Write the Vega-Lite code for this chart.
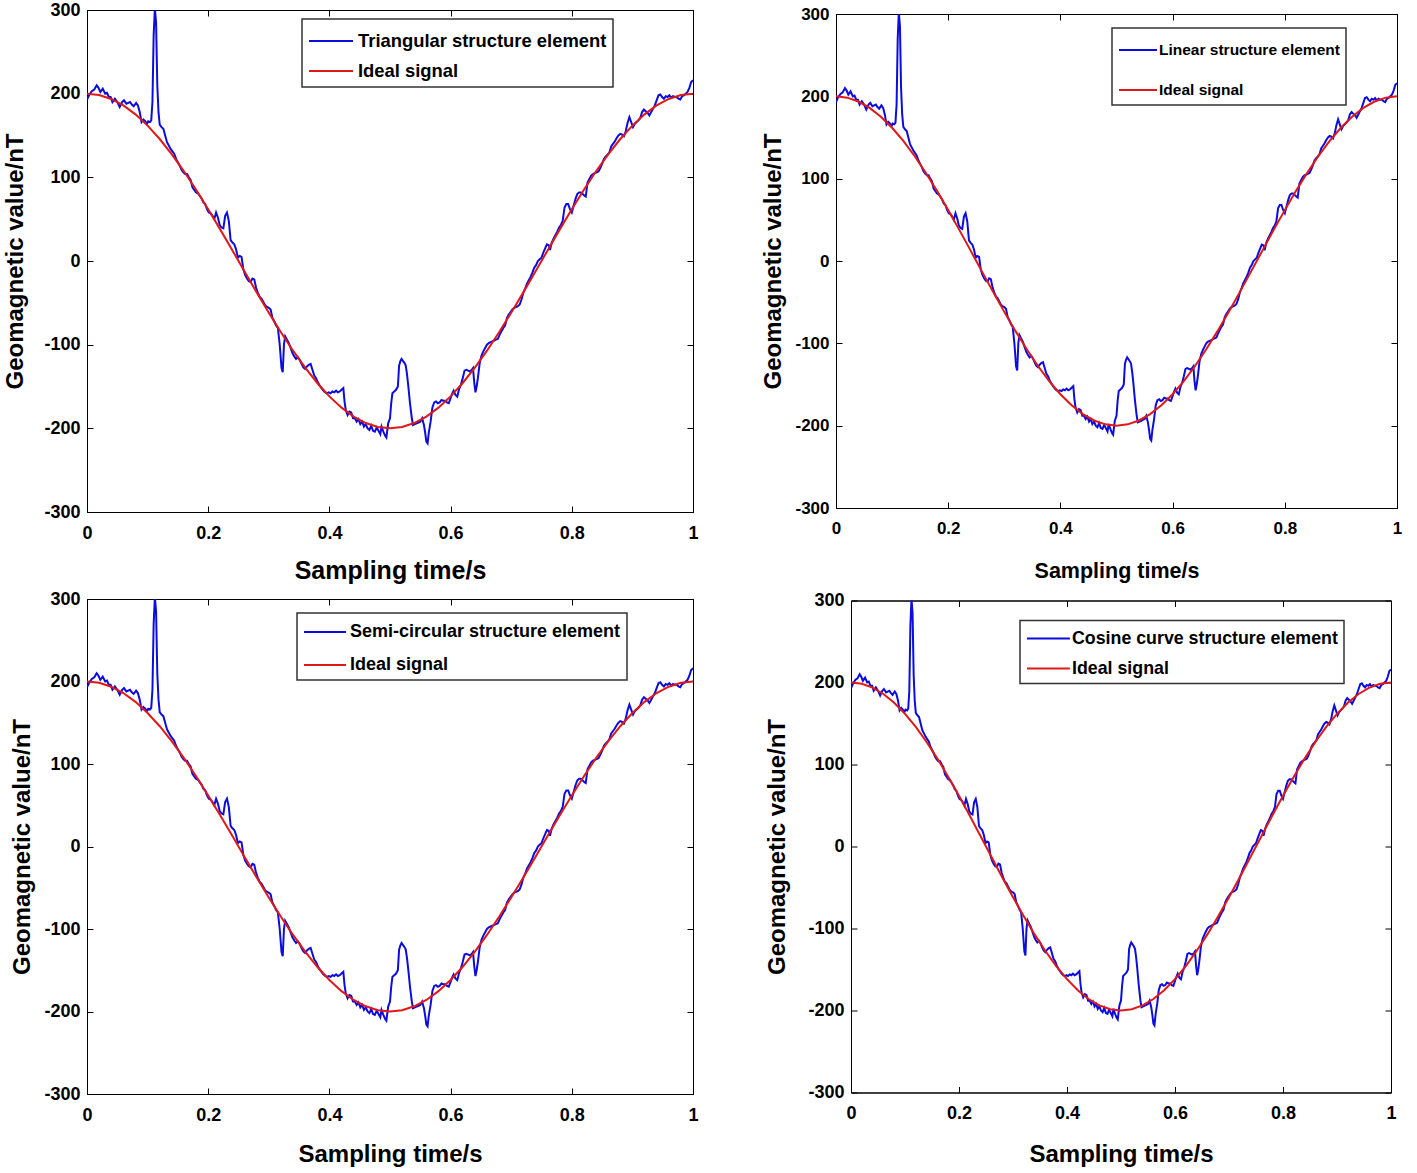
{
"$schema": "https://vega.github.io/schema/vega-lite/v6.json",
"autosize": {"type": "pad"},
"padding": {"left": 3, "top": 0, "right": 20, "bottom": 0},
"background": "white",
"spacing": 5,
"resolve": {"scale": {"color": "independent"}, "legend": {"color": "independent"}},
"config": {
  "view": {"stroke": "black", "strokeWidth": 1},
  "axis": {"grid": false, "domainColor": "black", "tickColor": "black", "labelColor": "black", "titleColor": "black", "labelFont": "Liberation Sans", "titleFont": "Liberation Sans", "labelFontWeight": "bold", "titleFontWeight": "bold", "labelFontSize": 18, "titleFontSize": 24, "tickSize": -6, "labelFlush": false, "labelOverlap": false},
  "legend": {"title": null, "orient": "none", "symbolStrokeWidth": 2, "labelFont": "Liberation Sans", "labelFontWeight": "bold", "labelColor": "black", "strokeColor": "#333", "strokeWidth": 1.5, "fillColor": "white", "padding": 6, "labelLimit": 600}
},
"datasets": {
"noisy": [
{"t":0.000,"v":193},{"t":0.004,"v":199},{"t":0.008,"v":203},{"t":0.012,"v":205},{"t":0.016,"v":210},{"t":0.019,"v":207},{"t":0.022,"v":202},{"t":0.026,"v":206},{"t":0.030,"v":200},{"t":0.033,"v":201},{"t":0.036,"v":196},{"t":0.039,"v":196},{"t":0.042,"v":190},{"t":0.046,"v":194},{"t":0.050,"v":190},{"t":0.054,"v":184},{"t":0.058,"v":190},{"t":0.061,"v":192},{"t":0.065,"v":188},{"t":0.068,"v":189},{"t":0.071,"v":190},{"t":0.074,"v":187},{"t":0.077,"v":185},{"t":0.081,"v":189},{"t":0.084,"v":186},{"t":0.087,"v":178},{"t":0.090,"v":166},{"t":0.093,"v":169},{"t":0.096,"v":167},{"t":0.099,"v":164},{"t":0.101,"v":167},{"t":0.104,"v":166},{"t":0.106,"v":168},{"t":0.108,"v":190},{"t":0.110,"v":270},{"t":0.112,"v":302},{"t":0.114,"v":285},{"t":0.116,"v":210},{"t":0.118,"v":178},{"t":0.120,"v":163},{"t":0.123,"v":160},{"t":0.126,"v":158},{"t":0.129,"v":150},{"t":0.132,"v":142},{"t":0.135,"v":138},{"t":0.138,"v":134},{"t":0.141,"v":131},{"t":0.144,"v":128},{"t":0.147,"v":122},{"t":0.150,"v":118},{"t":0.153,"v":114},{"t":0.156,"v":109},{"t":0.159,"v":106},{"t":0.162,"v":104},{"t":0.165,"v":104},{"t":0.168,"v":100},{"t":0.171,"v":97},{"t":0.174,"v":88},{"t":0.177,"v":85},{"t":0.180,"v":82},{"t":0.183,"v":81},{"t":0.186,"v":78},{"t":0.189,"v":75},{"t":0.192,"v":70},{"t":0.195,"v":68},{"t":0.198,"v":62},{"t":0.201,"v":58},{"t":0.204,"v":57},{"t":0.207,"v":54},{"t":0.210,"v":50},{"t":0.213,"v":58},{"t":0.216,"v":52},{"t":0.219,"v":43},{"t":0.222,"v":40},{"t":0.225,"v":39},{"t":0.228,"v":54},{"t":0.231,"v":58},{"t":0.234,"v":48},{"t":0.237,"v":25},{"t":0.240,"v":22},{"t":0.243,"v":20},{"t":0.246,"v":14},{"t":0.249,"v":4},{"t":0.252,"v":6},{"t":0.255,"v":5},{"t":0.258,"v":-10},{"t":0.261,"v":-17},{"t":0.264,"v":-21},{"t":0.267,"v":-24},{"t":0.270,"v":-25},{"t":0.273,"v":-21},{"t":0.276,"v":-22},{"t":0.279,"v":-32},{"t":0.282,"v":-38},{"t":0.285,"v":-43},{"t":0.288,"v":-45},{"t":0.291,"v":-49},{"t":0.294,"v":-53},{"t":0.297,"v":-55},{"t":0.300,"v":-56},{"t":0.303,"v":-58},{"t":0.306,"v":-68},{"t":0.309,"v":-72},{"t":0.312,"v":-77},{"t":0.315,"v":-80},{"t":0.318,"v":-100},{"t":0.321,"v":-128},{"t":0.323,"v":-133},{"t":0.325,"v":-100},{"t":0.327,"v":-90},{"t":0.330,"v":-94},{"t":0.333,"v":-98},{"t":0.336,"v":-104},{"t":0.339,"v":-110},{"t":0.342,"v":-114},{"t":0.345,"v":-117},{"t":0.348,"v":-115},{"t":0.351,"v":-118},{"t":0.354,"v":-123},{"t":0.357,"v":-127},{"t":0.360,"v":-129},{"t":0.363,"v":-126},{"t":0.366,"v":-124},{"t":0.369,"v":-123},{"t":0.372,"v":-130},{"t":0.375,"v":-137},{"t":0.378,"v":-140},{"t":0.381,"v":-145},{"t":0.384,"v":-149},{"t":0.387,"v":-152},{"t":0.390,"v":-155},{"t":0.393,"v":-157},{"t":0.396,"v":-158},{"t":0.399,"v":-157},{"t":0.402,"v":-158},{"t":0.405,"v":-156},{"t":0.408,"v":-157},{"t":0.411,"v":-155},{"t":0.414,"v":-157},{"t":0.417,"v":-156},{"t":0.420,"v":-154},{"t":0.423,"v":-152},{"t":0.425,"v":-168},{"t":0.427,"v":-178},{"t":0.430,"v":-184},{"t":0.433,"v":-180},{"t":0.436,"v":-181},{"t":0.439,"v":-188},{"t":0.442,"v":-188},{"t":0.445,"v":-192},{"t":0.448,"v":-189},{"t":0.451,"v":-195},{"t":0.454,"v":-192},{"t":0.457,"v":-198},{"t":0.460,"v":-195},{"t":0.463,"v":-200},{"t":0.466,"v":-202},{"t":0.469,"v":-197},{"t":0.472,"v":-203},{"t":0.475,"v":-204},{"t":0.478,"v":-199},{"t":0.481,"v":-203},{"t":0.484,"v":-207},{"t":0.486,"v":-198},{"t":0.489,"v":-204},{"t":0.492,"v":-209},{"t":0.494,"v":-211},{"t":0.497,"v":-194},{"t":0.500,"v":-188},{"t":0.502,"v":-170},{"t":0.504,"v":-158},{"t":0.507,"v":-156},{"t":0.510,"v":-154},{"t":0.513,"v":-150},{"t":0.515,"v":-125},{"t":0.517,"v":-120},{"t":0.519,"v":-117},{"t":0.521,"v":-119},{"t":0.524,"v":-122},{"t":0.526,"v":-125},{"t":0.528,"v":-135},{"t":0.530,"v":-148},{"t":0.533,"v":-170},{"t":0.536,"v":-188},{"t":0.538,"v":-196},{"t":0.541,"v":-195},{"t":0.544,"v":-194},{"t":0.547,"v":-193},{"t":0.550,"v":-192},{"t":0.553,"v":-188},{"t":0.556,"v":-196},{"t":0.558,"v":-205},{"t":0.560,"v":-216},{"t":0.562,"v":-218},{"t":0.564,"v":-205},{"t":0.567,"v":-192},{"t":0.570,"v":-175},{"t":0.573,"v":-169},{"t":0.576,"v":-168},{"t":0.579,"v":-170},{"t":0.582,"v":-169},{"t":0.585,"v":-166},{"t":0.588,"v":-167},{"t":0.591,"v":-167},{"t":0.594,"v":-169},{"t":0.597,"v":-170},{"t":0.600,"v":-164},{"t":0.603,"v":-158},{"t":0.605,"v":-155},{"t":0.608,"v":-160},{"t":0.611,"v":-162},{"t":0.614,"v":-153},{"t":0.617,"v":-148},{"t":0.620,"v":-140},{"t":0.623,"v":-131},{"t":0.626,"v":-130},{"t":0.629,"v":-131},{"t":0.632,"v":-132},{"t":0.635,"v":-130},{"t":0.637,"v":-128},{"t":0.639,"v":-145},{"t":0.641,"v":-157},{"t":0.643,"v":-150},{"t":0.645,"v":-140},{"t":0.648,"v":-122},{"t":0.651,"v":-113},{"t":0.654,"v":-108},{"t":0.657,"v":-104},{"t":0.660,"v":-100},{"t":0.663,"v":-98},{"t":0.666,"v":-97},{"t":0.669,"v":-96},{"t":0.672,"v":-95},{"t":0.675,"v":-94},{"t":0.678,"v":-93},{"t":0.681,"v":-88},{"t":0.684,"v":-84},{"t":0.687,"v":-80},{"t":0.690,"v":-77},{"t":0.693,"v":-68},{"t":0.696,"v":-64},{"t":0.699,"v":-61},{"t":0.702,"v":-58},{"t":0.705,"v":-56},{"t":0.708,"v":-55},{"t":0.711,"v":-54},{"t":0.714,"v":-52},{"t":0.717,"v":-46},{"t":0.720,"v":-38},{"t":0.723,"v":-33},{"t":0.726,"v":-27},{"t":0.729,"v":-23},{"t":0.732,"v":-19},{"t":0.735,"v":-14},{"t":0.738,"v":-8},{"t":0.741,"v":-5},{"t":0.744,"v":0},{"t":0.747,"v":2},{"t":0.750,"v":4},{"t":0.753,"v":10},{"t":0.756,"v":15},{"t":0.759,"v":20},{"t":0.762,"v":19},{"t":0.764,"v":13},{"t":0.767,"v":22},{"t":0.770,"v":27},{"t":0.773,"v":31},{"t":0.776,"v":35},{"t":0.779,"v":40},{"t":0.782,"v":43},{"t":0.785,"v":48},{"t":0.788,"v":64},{"t":0.791,"v":68},{"t":0.794,"v":68},{"t":0.797,"v":62},{"t":0.800,"v":58},{"t":0.803,"v":66},{"t":0.806,"v":74},{"t":0.809,"v":80},{"t":0.812,"v":82},{"t":0.815,"v":82},{"t":0.818,"v":80},{"t":0.821,"v":78},{"t":0.823,"v":77},{"t":0.826,"v":94},{"t":0.829,"v":98},{"t":0.832,"v":102},{"t":0.835,"v":104},{"t":0.838,"v":105},{"t":0.841,"v":106},{"t":0.844,"v":107},{"t":0.847,"v":111},{"t":0.850,"v":116},{"t":0.853,"v":122},{"t":0.856,"v":125},{"t":0.859,"v":127},{"t":0.862,"v":130},{"t":0.865,"v":137},{"t":0.868,"v":140},{"t":0.871,"v":143},{"t":0.874,"v":147},{"t":0.877,"v":150},{"t":0.880,"v":152},{"t":0.883,"v":151},{"t":0.886,"v":149},{"t":0.889,"v":155},{"t":0.892,"v":165},{"t":0.895,"v":172},{"t":0.898,"v":166},{"t":0.901,"v":160},{"t":0.904,"v":164},{"t":0.907,"v":166},{"t":0.910,"v":168},{"t":0.913,"v":171},{"t":0.916,"v":178},{"t":0.919,"v":181},{"t":0.922,"v":179},{"t":0.925,"v":177},{"t":0.928,"v":174},{"t":0.931,"v":178},{"t":0.934,"v":182},{"t":0.937,"v":186},{"t":0.940,"v":192},{"t":0.943,"v":198},{"t":0.946,"v":199},{"t":0.949,"v":196},{"t":0.952,"v":194},{"t":0.955,"v":197},{"t":0.958,"v":196},{"t":0.961,"v":198},{"t":0.964,"v":195},{"t":0.967,"v":197},{"t":0.970,"v":196},{"t":0.973,"v":196},{"t":0.976,"v":194},{"t":0.979,"v":193},{"t":0.982,"v":197},{"t":0.985,"v":198},{"t":0.988,"v":200},{"t":0.991,"v":202},{"t":0.994,"v":207},{"t":0.997,"v":214},{"t":1.000,"v":216}
],
"ideal": [
{"t":0.00,"v":200},{"t":0.02,"v":198.4},{"t":0.04,"v":193.7},{"t":0.06,"v":186.0},{"t":0.08,"v":175.3},{"t":0.10,"v":161.8},{"t":0.12,"v":145.8},{"t":0.14,"v":127.5},{"t":0.16,"v":107.2},{"t":0.18,"v":85.2},{"t":0.20,"v":61.8},{"t":0.22,"v":37.5},{"t":0.24,"v":12.6},{"t":0.26,"v":-12.6},{"t":0.28,"v":-37.5},{"t":0.30,"v":-61.8},{"t":0.32,"v":-85.2},{"t":0.34,"v":-107.2},{"t":0.36,"v":-127.5},{"t":0.38,"v":-145.8},{"t":0.40,"v":-161.8},{"t":0.42,"v":-175.3},{"t":0.44,"v":-186.0},{"t":0.46,"v":-193.7},{"t":0.48,"v":-198.4},{"t":0.50,"v":-200},{"t":0.52,"v":-198.4},{"t":0.54,"v":-193.7},{"t":0.56,"v":-186.0},{"t":0.58,"v":-175.3},{"t":0.60,"v":-161.8},{"t":0.62,"v":-145.8},{"t":0.64,"v":-127.5},{"t":0.66,"v":-107.2},{"t":0.68,"v":-85.2},{"t":0.70,"v":-61.8},{"t":0.72,"v":-37.5},{"t":0.74,"v":-12.6},{"t":0.76,"v":12.6},{"t":0.78,"v":37.5},{"t":0.80,"v":61.8},{"t":0.82,"v":85.2},{"t":0.84,"v":107.2},{"t":0.86,"v":127.5},{"t":0.88,"v":145.8},{"t":0.90,"v":161.8},{"t":0.92,"v":175.3},{"t":0.94,"v":186.0},{"t":0.96,"v":193.7},{"t":0.98,"v":198.4},{"t":1.00,"v":200}
]
},
"vconcat": [
{
  "bounds": "flush", "spacing": 143, "center": true,
  "resolve": {"scale": {"color": "independent"}, "legend": {"color": "independent"}},
  "hconcat": [
  {
    "width": 606, "height": 502,
    "layer": [
      {"data": {"name": "noisy"}, "mark": {"type": "line", "strokeWidth": 2, "clip": true},
       "encoding": {
         "x": {"field": "t", "type": "quantitative", "scale": {"domain": [0, 1], "nice": false, "zero": false}, "axis": {"values": [0, 0.2, 0.4, 0.6, 0.8, 1], "format": "~g", "title": "Sampling time/s", "labelPadding": 18, "titlePadding": 16, "titleFontSize": 25}},
         "y": {"field": "v", "type": "quantitative", "scale": {"domain": [-300, 300], "nice": false}, "axis": {"values": [-300, -200, -100, 0, 100, 200, 300], "labelExpr": "'' + datum.value", "title": "Geomagnetic value/nT", "labelPadding": 13, "titlePadding": 16}},
         "color": {"datum": "Triangular structure element", "scale": {"domain": ["Triangular structure element", "Ideal signal"], "range": ["#0c0cdc", "#e01818"]}, "legend": {"legendX": 215, "legendY": 9, "symbolType": "M-1,0H1.933", "symbolSize": 900, "labelOffset": 18, "labelFontSize": 18.4, "rowPadding": 4}}
       }},
      {"data": {"name": "ideal"}, "mark": {"type": "line", "strokeWidth": 2},
       "encoding": {
         "x": {"field": "t", "type": "quantitative", "axis": {"orient": "top", "values": [0, 0.2, 0.4, 0.6, 0.8, 1], "labels": false, "title": null}},
         "y": {"field": "v", "type": "quantitative", "axis": {"orient": "right", "values": [-300, -200, -100, 0, 100, 200, 300], "labels": false, "title": null}},
         "color": {"datum": "Ideal signal"}
       }}
    ],
    "resolve": {"axis": {"x": "independent", "y": "independent"}}
  },
  {
    "width": 561, "height": 494,
    "layer": [
      {"data": {"name": "noisy"}, "mark": {"type": "line", "strokeWidth": 2, "clip": true},
       "encoding": {
         "x": {"field": "t", "type": "quantitative", "scale": {"domain": [0, 1], "nice": false, "zero": false}, "axis": {"values": [0, 0.2, 0.4, 0.6, 0.8, 1], "format": "~g", "title": "Sampling time/s", "labelPadding": 18, "titlePadding": 24, "labelFontSize": 17, "titleFontSize": 21.5}},
         "y": {"field": "v", "type": "quantitative", "scale": {"domain": [-300, 300], "nice": false}, "axis": {"values": [-300, -200, -100, 0, 100, 200, 300], "labelExpr": "'' + datum.value", "title": "Geomagnetic value/nT", "labelPadding": 13, "titlePadding": 9, "labelFontSize": 17}},
         "color": {"datum": "Linear structure element", "scale": {"domain": ["Linear structure element", "Ideal signal"], "range": ["#0c0cdc", "#e01818"]}, "legend": {"legendX": 276, "legendY": 14, "symbolType": "M-1,0H1.533", "symbolSize": 900, "labelOffset": 9, "labelFontSize": 15.5, "rowPadding": 15}}
       }},
      {"data": {"name": "ideal"}, "mark": {"type": "line", "strokeWidth": 2},
       "encoding": {
         "x": {"field": "t", "type": "quantitative", "axis": {"orient": "top", "values": [0, 0.2, 0.4, 0.6, 0.8, 1], "labels": false, "title": null}},
         "y": {"field": "v", "type": "quantitative", "axis": {"orient": "right", "values": [-300, -200, -100, 0, 100, 200, 300], "labels": false, "title": null}},
         "color": {"datum": "Ideal signal"}
       }}
    ],
    "resolve": {"axis": {"x": "independent", "y": "independent"}}
  }
  ]
},
{
  "bounds": "flush", "spacing": 158, "center": true,
  "resolve": {"scale": {"color": "independent"}, "legend": {"color": "independent"}},
  "hconcat": [
  {
    "width": 606, "height": 495,
    "layer": [
      {"data": {"name": "noisy"}, "mark": {"type": "line", "strokeWidth": 2, "clip": true},
       "encoding": {
         "x": {"field": "t", "type": "quantitative", "scale": {"domain": [0, 1], "nice": false, "zero": false}, "axis": {"values": [0, 0.2, 0.4, 0.6, 0.8, 1], "format": "~g", "title": "Sampling time/s", "labelPadding": 18, "titlePadding": 18}},
         "y": {"field": "v", "type": "quantitative", "scale": {"domain": [-300, 300], "nice": false}, "axis": {"values": [-300, -200, -100, 0, 100, 200, 300], "labelExpr": "'' + datum.value", "title": "Geomagnetic value/nT", "labelPadding": 13, "titlePadding": 9}},
         "color": {"datum": "Semi-circular structure element", "scale": {"domain": ["Semi-circular structure element", "Ideal signal"], "range": ["#0c0cdc", "#e01818"]}, "legend": {"legendX": 210, "legendY": 14, "symbolType": "M-1,0H2.5", "symbolSize": 576, "labelOffset": 21, "labelFontSize": 18, "rowPadding": 11}}
       }},
      {"data": {"name": "ideal"}, "mark": {"type": "line", "strokeWidth": 2},
       "encoding": {
         "x": {"field": "t", "type": "quantitative", "axis": {"orient": "top", "values": [0, 0.2, 0.4, 0.6, 0.8, 1], "labels": false, "title": null}},
         "y": {"field": "v", "type": "quantitative", "axis": {"orient": "right", "values": [-300, -200, -100, 0, 100, 200, 300], "labels": false, "title": null}},
         "color": {"datum": "Ideal signal"}
       }}
    ],
    "resolve": {"axis": {"x": "independent", "y": "independent"}}
  },
  {
    "width": 540, "height": 492,
    "layer": [
      {"data": {"name": "noisy"}, "mark": {"type": "line", "strokeWidth": 2, "clip": true},
       "encoding": {
         "x": {"field": "t", "type": "quantitative", "scale": {"domain": [0, 1], "nice": false, "zero": false}, "axis": {"values": [0, 0.2, 0.4, 0.6, 0.8, 1], "format": "~g", "title": "Sampling time/s", "labelPadding": 18, "titlePadding": 20}},
         "y": {"field": "v", "type": "quantitative", "scale": {"domain": [-300, 300], "nice": false}, "axis": {"values": [-300, -200, -100, 0, 100, 200, 300], "labelExpr": "'' + datum.value", "title": "Geomagnetic value/nT", "labelPadding": 13, "titlePadding": 18}},
         "color": {"datum": "Cosine curve structure element", "scale": {"domain": ["Cosine curve structure element", "Ideal signal"], "range": ["#0c0cdc", "#e01818"]}, "legend": {"legendX": 169, "legendY": 20, "symbolType": "M-1,0H2.9", "symbolSize": 484, "labelOffset": 22, "labelFontSize": 17.8, "rowPadding": 9}}
       }},
      {"data": {"name": "ideal"}, "mark": {"type": "line", "strokeWidth": 2},
       "encoding": {
         "x": {"field": "t", "type": "quantitative", "axis": {"orient": "top", "values": [0, 0.2, 0.4, 0.6, 0.8, 1], "labels": false, "title": null}},
         "y": {"field": "v", "type": "quantitative", "axis": {"orient": "right", "values": [-300, -200, -100, 0, 100, 200, 300], "labels": false, "title": null}},
         "color": {"datum": "Ideal signal"}
       }}
    ],
    "resolve": {"axis": {"x": "independent", "y": "independent"}}
  }
  ]
}
]
}
